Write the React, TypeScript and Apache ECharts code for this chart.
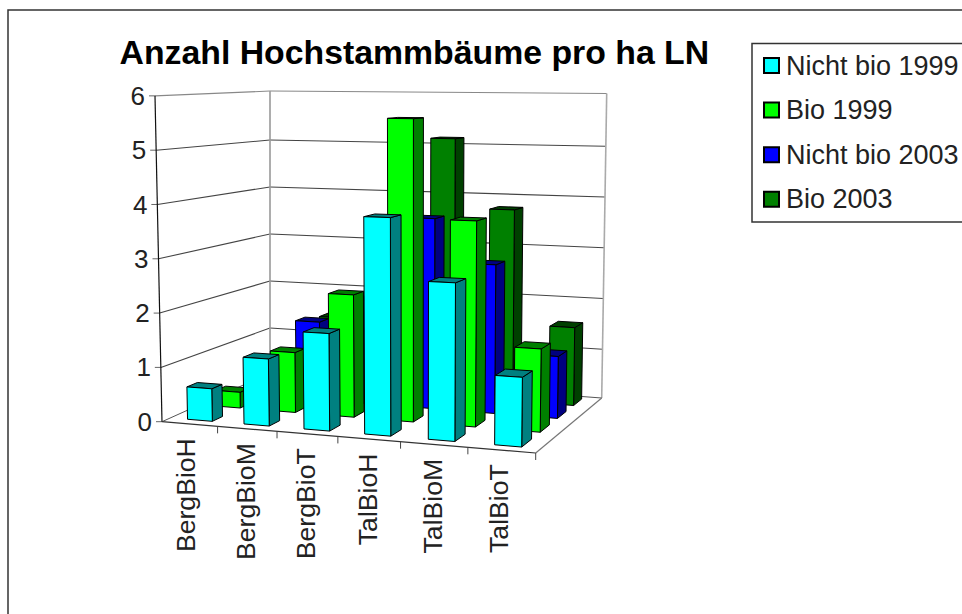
import React, { useEffect, useRef } from "react";
import * as echarts from "echarts";

const categories = ["BergBioH", "BergBioM", "BergBioT", "TalBioH", "TalBioM", "TalBioT"];
const yTicks = [0, 1, 2, 3, 4, 5, 6];
const nichtBio1999 = [0.6, 1.22, 1.75, 3.87, 2.77, 1.2];
const bio1999 = [0.3, 1.13, 2.28, 5.58, 3.74, 1.49];
const nichtBio2003 = [0, 1.52, 2.0, 3.63, 2.8, 1.15];
const bio2003 = [0, 1.42, 0, 5.1, 3.73, 1.5];

const FONT = "'Liberation Sans', Arial, sans-serif";
type P = [number, number];

// projection: floor quad, plus verticals converging on a far vanishing point
const floorQuad: P[] = [[162, 421.7], [535.7, 453], [601.7, 398], [270, 373]];
const VANISH: P = [411, 12000];

function homography(q: P[]) {
  const [[x0, y0], [x1, y1], [x2, y2], [x3, y3]] = q;
  const dx1 = x1 - x2, dx2 = x3 - x2, sx = x0 - x1 + x2 - x3;
  const dy1 = y1 - y2, dy2 = y3 - y2, sy = y0 - y1 + y2 - y3;
  const den = dx1 * dy2 - dx2 * dy1;
  const g = (sx * dy2 - dx2 * sy) / den;
  const h = (dx1 * sy - sx * dy1) / den;
  const a = x1 - x0 + g * x1, b = x3 - x0 + h * x3;
  const d = y1 - y0 + g * y1, e = y3 - y0 + h * y3;
  return (u: number, v: number): P => {
    const w = g * u + h * v + 1;
    return [(a * u + b * v + x0) / w, (d * u + e * v + y0) / w];
  };
}
const floorH = homography(floorQuad);
function project(u: number, v: number, hf: number): P {
  const f = floorH(u, v);
  const full = 282 + 0.9 * (f[1] - 373); // height of the full scale at this floor point
  const lean = (f[0] - VANISH[0]) / (VANISH[1] - f[1]);
  return [f[0] + lean * full * hf, f[1] - full * hf];
}
// the back-left edge of the box stands upright
function backLeft(hf: number): P {
  return [floorQuad[3][0], project(0, 1, hf)[1]];
}

const GRID = { left: 162, top: 96, width: 373.7, height: 325.7 };
const BAR_W = 0.42;
const ROW_PITCH = 0.25;
const V_OFFSET = 0.07;
// the old renderer's foreshortening is a little stronger than a plain homography
const bandShift = [0, -0.008, -0.009, -0.011, -0.008, -0.001];
const tickShift = [-0.011, -0.014, -0.016, -0.016, -0.007, 0];
const labelShift = [-5, -5, -6, -6, -4, -3];
const backGridDrop = 2;

function barRender(row: number, front: string, dark: string) {
  return (params: any, api: any) => {
    const cat = api.value(0), val = api.value(1);
    if (!val) return null;
    const band = api.size([1, 0])[0] / GRID.width;
    const uc = (api.coord([cat, 0])[0] - GRID.left) / GRID.width + bandShift[cat];
    const hf = (GRID.top + GRID.height - api.coord([cat, val])[1]) / GRID.height;
    const u0 = uc - (band * BAR_W) / 2, u1 = uc + (band * BAR_W) / 2;
    const v0 = row * ROW_PITCH + V_OFFSET, v1 = v0 + 0.085 + 0.05 * uc;
    const a = project(u0, v0, 0), b = project(u1, v0, 0), c = project(u1, v1, 0);
    const at = project(u0, v0, hf), bt = project(u1, v0, hf), ct = project(u1, v1, hf), dt = project(u0, v1, hf);
    const poly = (pts: P[], fill: string) => ({
      type: "polygon",
      shape: { points: pts },
      style: { fill, stroke: "#000", lineWidth: 1, lineJoin: "round" },
    });
    return {
      type: "group",
      children: [poly([b, c, ct, bt], dark), poly([at, bt, ct, dt], dark), poly([a, b, bt, at], front)],
    };
  };
}

function wallsRender(params: any, api: any) {
  const children: any[] = [];
  const line = (p: P, q: P, stroke: string, lineWidth: number) =>
    children.push({ type: "line", shape: { x1: p[0], y1: p[1], x2: q[0], y2: q[1] }, style: { stroke, lineWidth } });
  yTicks.forEach((t) => {
    const hf = (GRID.top + GRID.height - api.coord([0, t])[1]) / GRID.height;
    const fl = project(0, 0, hf), bl = backLeft(hf), br = project(1, 1, hf);
    line([fl[0] - 6, fl[1]], fl, "#666", 1);
    if (t > 0) {
      const drop = t < 6 ? backGridDrop : 0;
      const bl2: P = [bl[0], bl[1] + drop], br2: P = [br[0], br[1] + drop];
      line(fl, bl2, t === 6 ? "#888" : "#444", 1.1);
      line(bl2, br2, t === 6 ? "#888" : "#444", 1.1);
    }
  });
  line(backLeft(0), backLeft(1), "#999", 1.6);
  line(project(1, 1, 0), project(1, 1, 1), "#aaa", 1.6);
  line(project(0, 0, 0), project(0, 0, 1), "#111", 1.2);
  line(project(0, 0, 0), project(0, 1, 0), "#555", 1);
  line(project(0, 1, 0), project(1, 1, 0), "#555", 1);
  line(project(1, 0, 0), project(1, 1, 0), "#777", 1.2);
  line(project(0, 0, 0), project(1, 0, 0), "#333", 1.2);
  const band = api.size([1, 0])[0] / GRID.width;
  categories.forEach((name, i) => {
    const uc = (api.coord([i, 0])[0] - GRID.left) / GRID.width;
    const tick = project(uc + band / 2 + tickShift[i], 0, 0);
    line(tick, [tick[0], tick[1] + 7], "#444", 1);
    const p = project(uc, 0, 0);
    children.push({
      type: "text",
      x: p[0] - 1 + labelShift[i],
      y: p[1] + 14,
      rotation: Math.PI / 2,
      style: { text: name, fontSize: 26.6, fontFamily: FONT, fill: "#222", align: "right", verticalAlign: "middle" },
    });
  });
  return { type: "group", children };
}

const seriesDefs = [
  { name: "Bio 2003", values: bio2003, row: 3, front: "#008000", dark: "#004000" },
  { name: "Nicht bio 2003", values: nichtBio2003, row: 2, front: "#0000ff", dark: "#000080" },
  { name: "Bio 1999", values: bio1999, row: 1, front: "#00ff00", dark: "#008000" },
  { name: "Nicht bio 1999", values: nichtBio1999, row: 0, front: "#00ffff", dark: "#008080" },
];
const legendNames = ["Nicht bio 1999", "Bio 1999", "Nicht bio 2003", "Bio 2003"];

export default function App() {
  const ref = useRef<HTMLDivElement>(null);
  useEffect(() => {
    document.body.style.margin = "0";
    const chart = echarts.init(ref.current!, undefined, { renderer: "svg" });
    const rich: any = {};
    yTicks.forEach((t) => {
      rich["a" + t] = { fontSize: 26, fontFamily: FONT, color: "#222", padding: [0, (7 * t) / 6, 0, 0] };
    });
    chart.setOption({
      animation: false,
      backgroundColor: "#fff",
      title: {
        text: "Anzahl Hochstammbäume pro ha LN",
        left: 119.5,
        top: 35,
        padding: 0,
        textStyle: { fontFamily: FONT, fontSize: 33.8, fontWeight: "bold", color: "#000" },
      },
      legend: {
        data: legendNames,
        orient: "vertical",
        left: 763,
        top: 52,
        padding: 0,
        itemWidth: 15,
        itemHeight: 15,
        itemGap: 17.6,
        icon: "rect",
        textStyle: { fontFamily: FONT, fontSize: 27, color: "#222", padding: [0, 0, 0, 2] },
      },
      grid: GRID,
      xAxis: {
        type: "category",
        data: categories,
        axisLine: { show: false },
        axisTick: { show: false },
        axisLabel: { show: false },
        splitLine: { show: false },
      },
      yAxis: {
        type: "value",
        min: 0,
        max: 6,
        interval: 1,
        axisLine: { show: false },
        axisTick: { show: false },
        splitLine: { show: false },
        axisLabel: { margin: 10, formatter: (v: number) => `{a${v}|${v}}`, rich },
      },
      graphic: [
        { type: "polyline", shape: { points: [[8, 614], [8, 10], [962, 10]] }, style: { fill: "none", stroke: "#333", lineWidth: 1.5 } },
        { type: "polyline", shape: { points: [[962, 43.5], [752, 43.5], [752, 222], [962, 222]] }, style: { fill: "none", stroke: "#333", lineWidth: 1.5 } },
      ],
      series: [
        { type: "custom", name: "walls", silent: true, z: 1, renderItem: wallsRender, data: [[0, 0]], encode: { x: 0, y: 1 } },
        ...seriesDefs.map((s) => ({
          type: "custom",
          name: s.name,
          silent: true,
          z: 2,
          renderItem: barRender(s.row, s.front, s.dark),
          itemStyle: { color: s.front, borderColor: "#000", borderWidth: 1 },
          encode: { x: 0, y: 1 },
          data: s.values.map((v, i) => [i, v]),
        })),
      ],
    });
    return () => chart.dispose();
  }, []);
  return <div ref={ref} style={{ position: "absolute", left: 0, top: 0, width: 962, height: 614 }} />;
}
